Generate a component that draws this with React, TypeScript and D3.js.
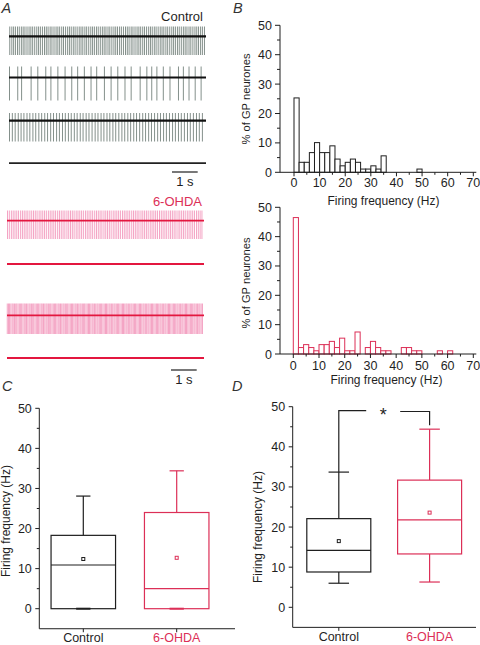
import React from 'react';
import * as d3 from 'd3';

// ---------------- DATA ----------------
// Panel A: spike times (s)
const CTRL_TRACE1 = [0.03,0.11,0.18,0.25,0.33,0.40,0.48,0.55,0.62,0.70,0.78,0.85,0.92,1.00,1.08,1.15,1.22,1.30,1.38,1.45,1.52,1.60,1.67,1.75,1.83,1.90,1.97,2.05,2.12,2.20,2.28,2.35,2.42,2.50,2.57,2.65,2.73,2.80,2.87,2.95,3.02,3.10,3.18,3.25,3.32,3.40,3.47,3.55,3.63,3.70,3.77,3.85,3.92,4.00,4.08,4.15,4.22,4.30,4.37,4.45,4.53,4.60,4.67,4.75,4.82,4.90,4.98,5.05,5.12,5.20,5.27,5.35,5.43,5.50,5.57,5.65,5.72,5.80,5.88,5.95,6.02,6.10,6.17,6.25,6.33,6.40,6.47,6.55,6.62,6.70,6.78,6.85,6.92,7.00,7.07,7.15,7.23,7.30,7.37,7.45,7.52,7.60];
const CTRL_TRACE2 = [0.02,0.34,0.49,0.86,1.12,1.43,1.63,1.90,2.18,2.44,2.67,2.93,3.19,3.41,3.71,3.97,4.23,4.51,4.75,5.10,5.36,5.55,5.75,6.00,6.26,6.59,6.78,7.00,7.24,7.47];
const CTRL_TRACE3 = [0.02,0.13,0.24,0.36,0.47,0.58,0.70,0.81,0.93,1.04,1.16,1.27,1.39,1.50,1.62,1.73,1.85,1.96,2.08,2.19,2.31,2.42,2.54,2.65,2.77,2.88,3.00,3.11,3.23,3.35,3.46,3.58,3.69,3.81,3.92,4.04,4.15,4.27,4.39,4.50,4.62,4.73,4.85,4.96,5.08,5.20,5.31,5.43,5.54,5.66,5.78,5.89,6.01,6.12,6.24,6.36,6.47,6.59,6.70,6.82,6.94,7.05,7.17,7.29,7.40,7.52];
const CTRL_TRACE4: number[] = [];
const OHDA_TRACE1 = [0.02,0.09,0.17,0.24,0.31,0.38,0.45,0.53,0.60,0.67,0.74,0.81,0.89,0.96,1.03,1.10,1.17,1.25,1.32,1.39,1.46,1.53,1.61,1.68,1.75,1.82,1.89,1.97,2.04,2.11,2.18,2.25,2.33,2.40,2.47,2.54,2.61,2.69,2.76,2.83,2.90,2.97,3.05,3.12,3.19,3.26,3.33,3.41,3.48,3.55,3.62,3.69,3.77,3.84,3.91,3.98,4.05,4.13,4.20,4.27,4.34,4.41,4.49,4.56,4.63,4.70,4.77,4.85,4.92,4.99,5.06,5.13,5.21,5.28,5.35,5.42,5.49,5.57,5.64,5.71,5.78,5.85,5.93,6.00,6.07,6.14,6.21,6.29,6.36,6.43,6.50,6.57,6.65,6.72,6.79,6.86,6.93,7.01,7.08,7.15,7.22,7.29,7.37,7.44,7.51,7.58];
const OHDA_TRACE2: number[] = [];
const OHDA_TRACE3 = [0.01,0.06,0.10,0.15,0.20,0.24,0.29,0.34,0.38,0.43,0.48,0.53,0.57,0.62,0.67,0.71,0.76,0.81,0.86,0.90,0.95,1.00,1.04,1.09,1.14,1.19,1.23,1.28,1.33,1.37,1.42,1.47,1.52,1.56,1.61,1.66,1.70,1.75,1.80,1.85,1.89,1.94,1.99,2.03,2.08,2.13,2.18,2.22,2.27,2.32,2.36,2.41,2.46,2.51,2.55,2.60,2.65,2.69,2.74,2.79,2.84,2.88,2.93,2.98,3.02,3.07,3.12,3.17,3.21,3.26,3.31,3.35,3.40,3.45,3.50,3.54,3.59,3.64,3.68,3.73,3.78,3.83,3.87,3.92,3.97,4.01,4.06,4.11,4.16,4.20,4.25,4.30,4.34,4.39,4.44,4.49,4.53,4.58,4.63,4.67,4.72,4.77,4.82,4.86,4.91,4.96,5.00,5.05,5.10,5.15,5.19,5.24,5.29,5.33,5.38,5.43,5.48,5.52,5.57,5.62,5.66,5.71,5.76,5.81,5.85,5.90,5.95,5.99,6.04,6.09,6.14,6.18,6.23,6.28,6.32,6.37,6.42,6.47,6.51,6.56,6.61,6.65,6.70,6.75,6.80,6.84,6.89,6.94,6.98,7.03,7.08,7.13,7.17,7.22,7.27,7.31,7.36,7.41,7.46,7.50,7.55,7.60];
const OHDA_TRACE4: number[] = [];

// Panel B: histograms (% of GP neurones per 2 Hz bin)
const CTRL_BIN_START = [0,2,4,6,8,10,12,14,16,18,20,22,24,26,28,30,32,34,36,38,40,42,44,46,48];
const CTRL_HIST = [25.3,3.4,3.4,6.7,10.1,6.7,6.7,9.0,4.5,2.2,3.4,4.5,3.4,1.1,1.1,2.2,1.1,5.6,0,0,0,0,0,0,1.1];
const OHDA_BIN_START = [0,2,4,6,8,10,12,14,16,18,20,22,24,26,28,30,32,34,36,38,40,42,44,46,48,50,52,54,56,58,60];
const OHDA_HIST = [46.5,2.2,3.2,2.2,1.1,3.2,3.2,4.3,2.2,5.4,1.1,1.1,7.5,0,2.2,4.3,2.2,1.1,1.1,0,0,2.2,2.2,1.1,1.1,0,0,0,1.1,0,1.1];
const BIN_WIDTH = 2;
const HIST_X_TICKS = [0,10,20,30,40,50,60,70];
const PCT_TICKS = [0,10,20,30,40,50];

// Panels C and D: box plots (Hz)
const GROUPS = ['Control', '6-OHDA'];
const C_Q1 = [0, 0];
const C_MED = [10.9, 5.0];
const C_Q3 = [18.3, 24.0];
const C_LO = [0, 0];
const C_HI = [28.1, 34.4];
const C_MEAN = [12.4, 12.7];
const D_Q1 = [8.8, 13.3];
const D_MED = [14.2, 21.8];
const D_Q3 = [22.1, 31.7];
const D_LO = [6.0, 6.3];
const D_HI = [33.7, 44.4];
const D_MEAN = [16.5, 23.6];
const FREQ_TICKS = [0,10,20,30,40,50];
const SIG_LEVEL = 49;

// ---------------- STYLE ----------------
const FONT = '"Liberation Sans", Arial, Helvetica, sans-serif';
const INK = '#1f1f1f';
const RED = '#dc2f57';
const TRACE_RED = '#e3173f';
const PINK = '#f4a4c4';
const GRAY = '#84908b';
const GROUP_COLORS = [INK, RED];

// ---------------- COMPONENTS ----------------
type TraceProps = { spikes: number[]; y: number; top: number; bottom: number; x0: number; x1: number; spikeColor: string; lineColor: string; lw: number };
function Trace({ spikes, y, top, bottom, x0, x1, spikeColor, lineColor, lw }: TraceProps) {
  const t = d3.scaleLinear().domain([0, 7.66]).range([x0, x1]);
  return (
    <g>
      {spikes.map((s, i) => (
        <line key={i} x1={t(s)} x2={t(s)} y1={top} y2={bottom} stroke={spikeColor} strokeWidth={1} />
      ))}
      <line x1={x0} x2={x1} y1={y} y2={y} stroke={lineColor} strokeWidth={lw} />
    </g>
  );
}

function ScaleBar({ x0, y, color, labelY }: { x0: number; y: number; color: string; labelY: number }) {
  const t = d3.scaleLinear().domain([0, 1]).range([x0, x0 + 25.7]);
  return (
    <g>
      <line x1={t(0)} x2={t(1)} y1={y} y2={y} stroke={color} strokeWidth={1.2} />
      <text x={(t(0) + t(1)) / 2} y={labelY} textAnchor="middle" fontSize={13} fill={color}>1 s</text>
    </g>
  );
}

type HistProps = { starts: number[]; values: number[]; color: string; y0: number; y50: number; x0: number; x70: number; axisX: number; tickLabelY: number; titleY: number; titleX: number; ylabY: number };
function Histogram({ starts, values, color, y0, y50, x0, x70, axisX, tickLabelY, titleY, titleX, ylabY }: HistProps) {
  const x = d3.scaleLinear().domain([0, 70]).range([x0, x70]);
  const y = d3.scaleLinear().domain([0, 50]).range([y0, y50]);
  const minorY = [5, 15, 25, 35, 45];
  const minorX = [5, 15, 25, 35, 45, 55, 65];
  return (
    <g fontFamily={FONT} fill={INK}>
      {values.map((v, i) => v > 0 ? (
        <rect key={i} x={x(starts[i])} y={y(v)} width={x(starts[i] + BIN_WIDTH) - x(starts[i])} height={y(0) - y(v)} fill="#fff" stroke={color} strokeWidth={1} />
      ) : null)}
      <line x1={axisX} x2={axisX} y1={y(50)} y2={y(0)} stroke={INK} strokeWidth={1} />
      <line x1={axisX} x2={x(70) + 3} y1={y(0)} y2={y(0)} stroke={INK} strokeWidth={1} />
      {PCT_TICKS.map(v => (
        <g key={v}>
          <line x1={axisX - 5} x2={axisX} y1={y(v)} y2={y(v)} stroke={INK} />
          <text x={axisX - 8} y={y(v)} dy="0.36em" textAnchor="end" fontSize={12.5}>{v}</text>
        </g>
      ))}
      {minorY.map(v => <line key={v} x1={axisX - 3} x2={axisX} y1={y(v)} y2={y(v)} stroke={INK} />)}
      {HIST_X_TICKS.map(v => (
        <g key={v}>
          <line x1={x(v)} x2={x(v)} y1={y(0)} y2={y(0) + 4} stroke={INK} />
          <text x={x(v)} y={tickLabelY} textAnchor="middle" fontSize={12.5}>{v}</text>
        </g>
      ))}
      {minorX.map(v => <line key={v} x1={x(v)} x2={x(v)} y1={y(0)} y2={y(0) + 2.5} stroke={INK} />)}
      <text x={titleX} y={titleY} textAnchor="middle" fontSize={12}>Firing frequency (Hz)</text>
      <text transform={`translate(250,${ylabY}) rotate(-90)`} textAnchor="middle" fontSize={11.2}>% of GP neurones</text>
    </g>
  );
}

type BoxProps = { q1: number[]; med: number[]; q3: number[]; lo: number[]; hi: number[]; mean: number[]; y0: number; y50: number; axisX: number; axisEnd: number; cx: [number, number]; boxW: number; capW: number; ylabX: number; ylabY: number; catY: number; sig?: boolean };
function BoxPlot({ q1, med, q3, lo, hi, mean, y0, y50, axisX, axisEnd, cx, boxW, capW, ylabX, ylabY, catY, sig }: BoxProps) {
  const y = d3.scaleLinear().domain([0, 50]).range([y0, y50]);
  const x = d3.scalePoint<string>().domain(GROUPS).range(cx);
  const minor = [5, 15, 25, 35, 45];
  const axisY = y(-5);
  return (
    <g fontFamily={FONT}>
      <line x1={axisX} x2={axisX} y1={y(50)} y2={axisY} stroke={INK} />
      <line x1={axisX} x2={axisEnd} y1={axisY} y2={axisY} stroke={INK} />
      {FREQ_TICKS.map(v => (
        <g key={v}>
          <line x1={axisX - 4} x2={axisX} y1={y(v)} y2={y(v)} stroke={INK} />
          <text x={axisX - 7.5} y={y(v)} dy="0.36em" textAnchor="end" fontSize={12.5} fill={INK}>{v}</text>
        </g>
      ))}
      {minor.map(v => <line key={v} x1={axisX - 2.5} x2={axisX} y1={y(v)} y2={y(v)} stroke={INK} />)}
      <text transform={`translate(${ylabX},${ylabY}) rotate(-90)`} textAnchor="middle" fontSize={12} fill={INK}>Firing frequency (Hz)</text>
      {GROUPS.map((g, i) => {
        const c = x(g) as number;
        const col = GROUP_COLORS[i];
        return (
          <g key={g}>
            <line x1={c} x2={c} y1={axisY} y2={axisY + 3.5} stroke={INK} />
            <text x={c} y={catY} textAnchor="middle" fontSize={12.5} fill={col}>{g}</text>
            <line x1={c} x2={c} y1={y(q3[i])} y2={y(hi[i])} stroke={col} strokeWidth={1.2} />
            <line x1={c} x2={c} y1={y(q1[i])} y2={y(lo[i])} stroke={col} strokeWidth={1.2} />
            <line x1={c - capW / 2} x2={c + capW / 2} y1={y(hi[i])} y2={y(hi[i])} stroke={col} strokeWidth={1.2} />
            <line x1={c - capW / 2} x2={c + capW / 2} y1={y(lo[i])} y2={y(lo[i])} stroke={col} strokeWidth={lo[i] === q1[i] ? 2 : 1.2} />
            <rect x={c - boxW / 2} y={y(q3[i])} width={boxW} height={y(q1[i]) - y(q3[i])} fill="none" stroke={col} strokeWidth={1.2} />
            <line x1={c - boxW / 2} x2={c + boxW / 2} y1={y(med[i])} y2={y(med[i])} stroke={col} strokeWidth={1.2} />
            <rect x={c - 1.5} y={y(mean[i]) - 1.5} width={3} height={3} fill="#fff" stroke={col} strokeWidth={1} />
          </g>
        );
      })}
      {sig ? (() => {
        const a = x(GROUPS[0]) as number;
        const b = x(GROUPS[1]) as number;
        const ys = y(SIG_LEVEL);
        const mid = (a + b) / 2 - 1;
        return (
          <g stroke={INK} strokeWidth={1.2} fill="none">
            <polyline points={`${a},${y(hi[0])} ${a},${ys} ${mid - 17},${ys}`} />
            <polyline points={`${mid + 17},${ys + 0.8} ${b},${ys + 0.8} ${b},${y(hi[1]) - 4}`} />
            <text x={mid} y={ys + 10} textAnchor="middle" fontSize={18} fill={INK} stroke="none">*</text>
          </g>
        );
      })() : null}
    </g>
  );
}

export default function App() {
  return (
    <div style={{ position: 'absolute', left: 0, top: 0 }}>
      <svg width={480} height={645} viewBox="0 0 480 645" style={{ display: 'block', background: '#fff' }} fontFamily={FONT}>
        {/* Panel labels */}
        <g fontStyle="italic" fontSize={14.5} fill="#333">
          <text x={1.5} y={13}>A</text>
          <text x={233} y={13}>B</text>
          <text x={2} y={391}>C</text>
          <text x={232} y={391}>D</text>
        </g>

        {/* Panel A: control traces */}
        <text x={203} y={20.7} textAnchor="end" fontSize={13} fill={INK}>Control</text>
        <Trace spikes={CTRL_TRACE1} y={36.3} top={26.5} bottom={55} x0={9} x1={206} spikeColor={GRAY} lineColor="#111" lw={2.2} />
        <Trace spikes={CTRL_TRACE2} y={77.5} top={66.5} bottom={100.5} x0={9} x1={206} spikeColor={GRAY} lineColor="#111" lw={2.2} />
        <Trace spikes={CTRL_TRACE3} y={120.7} top={113} bottom={141.5} x0={9} x1={206} spikeColor={GRAY} lineColor="#111" lw={2.2} />
        <Trace spikes={CTRL_TRACE4} y={163.2} top={163} bottom={163} x0={9} x1={206} spikeColor={GRAY} lineColor="#222" lw={1.8} />
        <ScaleBar x0={172} y={172} color={INK} labelY={185.5} />

        {/* Panel A: 6-OHDA traces */}
        <text x={202} y={206} textAnchor="end" fontSize={13} fill={RED}>6-OHDA</text>
        <Trace spikes={OHDA_TRACE1} y={220.7} top={210.5} bottom={239} x0={7} x1={204} spikeColor={PINK} lineColor={TRACE_RED} lw={1.8} />
        <Trace spikes={OHDA_TRACE2} y={264} top={264} bottom={264} x0={7} x1={204} spikeColor={PINK} lineColor={TRACE_RED} lw={1.8} />
        <Trace spikes={OHDA_TRACE3} y={315.3} top={303.5} bottom={334} x0={7} x1={204} spikeColor={PINK} lineColor={TRACE_RED} lw={1.8} />
        <Trace spikes={OHDA_TRACE4} y={358} top={358} bottom={358} x0={7} x1={204} spikeColor={PINK} lineColor={TRACE_RED} lw={1.8} />
        <ScaleBar x0={171} y={370} color={INK} labelY={383.5} />

        {/* Panel B */}
        <Histogram starts={CTRL_BIN_START} values={CTRL_HIST} color={INK} y0={172.3} y50={25.3} x0={294} x70={473.3} axisX={280} tickLabelY={186.8} titleY={204.5} titleX={383.5} ylabY={99} />
        <Histogram starts={OHDA_BIN_START} values={OHDA_HIST} color={RED} y0={354} y50={207.3} x0={293.3} x70={473.3} axisX={280} tickLabelY={369.5} titleY={383.8} titleX={386.5} ylabY={283} />

        {/* Panel C */}
        <BoxPlot q1={C_Q1} med={C_MED} q3={C_Q3} lo={C_LO} hi={C_HI} mean={C_MEAN} y0={608.7} y50={408.3} axisX={39.3} axisEnd={235} cx={[83.3, 176.7]} boxW={64.5} capW={14.3} ylabX={9.5} ylabY={521} catY={641.5} />

        {/* Panel D */}
        <BoxPlot q1={D_Q1} med={D_MED} q3={D_Q3} lo={D_LO} hi={D_HI} mean={D_MEAN} y0={607.3} y50={406.7} axisX={292.7} axisEnd={476} cx={[338.8, 429.6]} boxW={64} capW={20.5} ylabX={262} ylabY={527} catY={641} sig />
      </svg>
    </div>
  );
}
